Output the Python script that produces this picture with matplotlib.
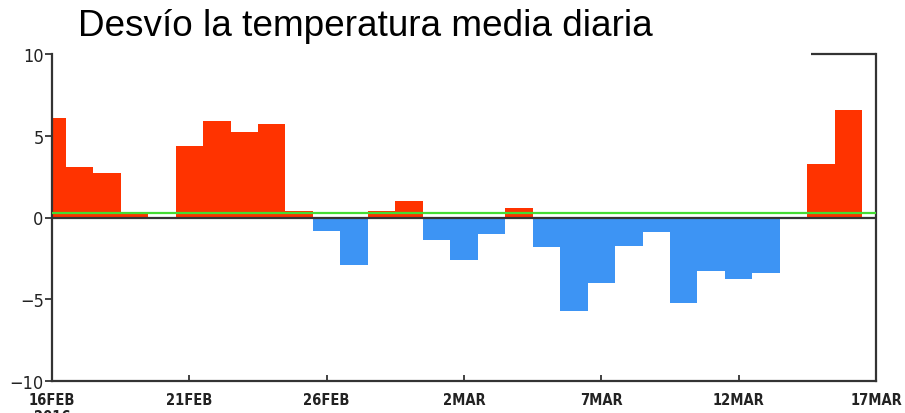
import matplotlib.pyplot as plt
import numpy as np

# daily mean temperature anomaly, 16FEB2016 .. 16MAR2016
days = np.arange(30)
anom = [6.1, 3.1, 2.7, 0.2, 0.0, 4.4, 5.9, 5.2, 5.7, 0.4,
        -0.8, -2.9, 0.4, 1.0, -1.4, -2.6, -1.0, 0.6, -1.8, -5.7,
        -4.0, -1.75, -0.9, -5.2, -3.25, -3.75, -3.4, 0.0, 3.3, 6.6]
tick_pos = [0, 5, 10, 15, 20, 25, 30]
tick_lab = ['16FEB\n2016', '21FEB', '26FEB', '2MAR', '7MAR', '12MAR', '17MAR']
yticks = [-10, -5, 0, 5, 10]
green_level = 0.25

fig = plt.figure(figsize=(9.05, 4.14), dpi=100)
ax = fig.add_axes([52/905, 1-382/414, 824/905, 327/414])

anom = np.array(anom)
cols = np.where(anom >= 0, '#ff3300', '#3d94f4')
ax.bar(days, anom, width=1.0, color=cols, linewidth=0, zorder=1)

ax.axhline(0, color='#333333', lw=1.6, zorder=2)
ax.axhline(green_level, color='#44dd33', lw=1.6, zorder=3)

ax.set_xlim(0, 30)
ax.set_ylim(-10, 10)
ax.set_xticks(tick_pos)
ax.set_xticklabels(tick_lab, fontsize=10.5, fontweight='bold', family=['DejaVu Sans'],
                   fontstretch='condensed', linespacing=1.15)
ax.set_yticks(yticks)
ax.set_yticklabels([str(v).replace('-', '\u2212') for v in yticks], fontsize=13,
                   family=['DejaVu Sans'], fontstretch='condensed')
ax.tick_params(axis='x', direction='in', length=4, width=1.2, pad=8, colors='#222222')
ax.tick_params(axis='y', direction='out', length=5, width=1.2, pad=1, colors='#222222')

for s in ['left', 'right', 'bottom']:
    ax.spines[s].set_linewidth(1.6)
    ax.spines[s].set_color('#333333')
ax.spines['top'].set_visible(False)
ax.plot([0.921, 1.0], [1.0, 1.0], transform=ax.transAxes, color='#333333',
        lw=1.6, clip_on=False, solid_capstyle='butt')

fig.text(78/905, 1-36/414, 'Desvío la temperatura media diaria', fontsize=26.6,
         family=['Liberation Sans'], va='baseline', ha='left')

fig.savefig('out.png', dpi=100)
